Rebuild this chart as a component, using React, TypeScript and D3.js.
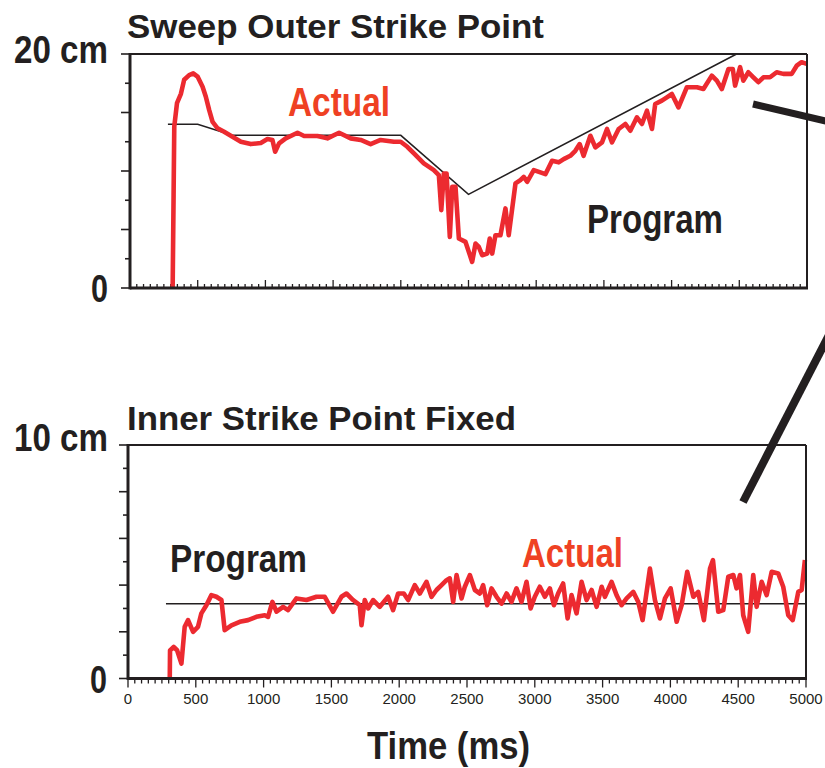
import React from "react";
import * as d3 from "d3";

// Outer strike point: measured position [time ms, cm]
const outerActual: [number, number][] = [
  [315, 0], [322, 8], [327, 13.8], [347, 15.8], [376, 16.6], [400, 17.8], [437, 18.2], [467, 18.35],
  [499, 18.07], [536, 17.2], [560, 16.35], [585, 15.2], [610, 14.2], [647, 13.65], [695, 13.35],
  [757, 12.93], [819, 12.5], [892, 12.3], [966, 12.4], [1015, 12.73], [1052, 12.65], [1072, 11.65],
  [1101, 12.36], [1150, 12.79], [1237, 13.27], [1286, 12.99], [1384, 12.99], [1458, 12.79],
  [1544, 13.27], [1630, 12.79], [1704, 12.65], [1777, 12.3], [1851, 12.65], [1949, 12.5],
  [1999, 12.5], [2048, 12.07], [2097, 11.5], [2170, 10.65], [2244, 10.08], [2281, 9.65],
  [2299, 6.65], [2318, 9.79], [2338, 9.79], [2362, 4.37], [2380, 8.65], [2404, 8.65], [2429, 4.23],
  [2478, 3.94], [2527, 2.23], [2552, 3.8], [2576, 3.51], [2601, 2.8], [2638, 2.94], [2657, 4.23],
  [2675, 2.94], [2699, 4.51], [2736, 4.51], [2773, 6.8], [2797, 4.51], [2847, 8.94], [2883, 9.22],
  [2908, 9.5], [2933, 9.08], [2982, 10.08], [3031, 9.88], [3068, 9.73], [3117, 10.87], [3166, 10.74],
  [3203, 11.02], [3252, 11.3], [3289, 11.73], [3321, 12.3], [3350, 11.3], [3400, 13.01],
  [3437, 12.02], [3486, 12.45], [3523, 13.59], [3560, 12.45], [3609, 13.59], [3658, 14.02],
  [3695, 13.44], [3744, 14.59], [3781, 14.02], [3818, 15.15], [3855, 13.59], [3879, 15.73],
  [3928, 16.01], [3965, 16.3], [4002, 16.58], [4051, 15.44], [4113, 17.16], [4187, 17.16],
  [4235, 17.01], [4297, 18.15], [4334, 17.72], [4371, 17.01], [4420, 18.72], [4452, 18.72],
  [4469, 17.3], [4506, 18.87], [4530, 17.72], [4567, 18.44], [4604, 18.01], [4641, 17.59],
  [4678, 18.01], [4727, 18.01], [4776, 18.44], [4825, 18.3], [4887, 18.3], [4924, 19.0],
  [4960, 19.3], [4998, 19.15],
];

// Outer strike point: programmed sweep [time ms, cm]
const outerProgram: [number, number][] = [
  [280, 14], [500, 14], [755, 13.05], [2000, 13.05], [2500, 8], [4480, 20],
];

// Inner strike point: measured position [time ms, cm]
const innerActual: [number, number][] = [
  [308, 0], [310, 1.2], [337, 1.35], [362, 1.21], [394, 0.64], [418, 2.21], [443, 2.5], [480, 2.0],
  [516, 2.21], [541, 2.79], [578, 3.14], [615, 3.57], [652, 3.5], [689, 3.36], [713, 2.07],
  [763, 2.28], [824, 2.43], [885, 2.5], [947, 2.64], [1009, 2.71], [1033, 2.64], [1065, 3.28],
  [1095, 2.86], [1144, 3.07], [1180, 2.93], [1242, 3.43], [1316, 3.36], [1390, 3.5], [1451, 3.5],
  [1512, 2.86], [1574, 3.5], [1611, 3.64], [1660, 3.36], [1709, 3.14], [1722, 2.28], [1746, 3.36],
  [1771, 3.0], [1808, 3.36], [1857, 3.07], [1918, 3.5], [1955, 2.93], [1992, 3.64], [2034, 3.64],
  [2066, 3.36], [2115, 4.0], [2152, 3.64], [2201, 4.14], [2238, 3.5], [2275, 3.79], [2312, 4.0],
  [2349, 4.21], [2373, 4.29], [2398, 3.28], [2423, 4.43], [2460, 3.43], [2484, 3.93], [2521, 4.43],
  [2558, 3.79], [2595, 3.64], [2619, 4.0], [2649, 3.14], [2681, 3.86], [2718, 3.5], [2755, 3.21],
  [2792, 3.64], [2828, 3.28], [2865, 3.86], [2902, 3.28], [2939, 4.14], [2969, 3.0], [3000, 3.5],
  [3037, 3.93], [3074, 3.5], [3111, 3.86], [3141, 3.14], [3172, 3.64], [3209, 4.07], [3242, 2.57],
  [3271, 3.57], [3308, 2.79], [3345, 4.14], [3382, 3.36], [3419, 3.79], [3456, 3.07], [3493, 3.93],
  [3517, 3.5], [3566, 4.14], [3603, 3.57], [3640, 3.14], [3677, 3.43], [3726, 3.71], [3763, 3.28],
  [3795, 2.5], [3849, 4.71], [3886, 3.36], [3923, 2.57], [3960, 3.43], [4002, 3.86], [4046, 2.43],
  [4083, 3.14], [4124, 4.57], [4169, 3.5], [4205, 3.71], [4247, 2.5], [4292, 4.71], [4314, 5.07],
  [4353, 2.86], [4390, 2.93], [4427, 4.36], [4464, 4.43], [4488, 3.86], [4513, 4.43], [4537, 2.71],
  [4574, 2.0], [4611, 4.43], [4636, 3.07], [4673, 4.14], [4710, 3.57], [4747, 4.57], [4795, 4.5],
  [4832, 3.93], [4869, 2.71], [4902, 2.5], [4943, 3.71], [4968, 3.79], [4992, 5.07],
];

// Inner strike point: programmed (fixed) position [time ms, cm]
const innerProgram: [number, number][] = [
  [280, 3.2], [5000, 3.2],
];

const timeTicks = [0, 500, 1000, 1500, 2000, 2500, 3000, 3500, 4000, 4500, 5000];
const outerYTicks = [0, 2.5, 5, 7.5, 10, 12.5, 15, 17.5, 20];
const innerYTicks = [0, 1, 2, 3, 4, 5, 6, 7, 8, 9, 10];

const INK = "#231f20";
const RED = "#ec2a30";
const LABEL_RED = "#ef4123";
const FONT = "'Liberation Sans Narrow', 'Liberation Sans', Arial, sans-serif";

type TextProps = {
  x: number;
  y: number;
  w: number;
  size: number;
  fill?: string;
  children: string;
};

function Label({ x, y, w, size, fill = INK, children }: TextProps) {
  return (
    <text
      x={x}
      y={y}
      fontFamily={FONT}
      fontWeight="bold"
      fontSize={size}
      fill={fill}
      textLength={w}
      lengthAdjust="spacingAndGlyphs"
    >
      {children}
    </text>
  );
}

export default function App() {
  const W = 825;
  const H = 768;

  const xOuter = d3.scaleLinear().domain([0, 5000]).range([130, 807]);
  const yOuter = d3.scaleLinear().domain([0, 20]).range([288, 54]);
  const xInner = d3.scaleLinear().domain([0, 5000]).range([128, 806]);
  const yInner = d3.scaleLinear().domain([0, 10]).range([678.5, 445]);

  const outerLine = d3
    .line<[number, number]>()
    .x((d) => xOuter(d[0]))
    .y((d) => yOuter(d[1]));
  const innerLine = d3
    .line<[number, number]>()
    .x((d) => xInner(d[0]))
    .y((d) => yInner(d[1]));

  const minorOuter = xOuter.ticks(100);
  const minorInner = xInner.ticks(100);

  const [ox0, ox1] = xOuter.range();
  const [oy0, oy1] = yOuter.range();
  const [ix0, ix1] = xInner.range();
  const [iy0, iy1] = yInner.range();

  return (
    <div style={{ position: "absolute", left: 0, top: 0, width: W, height: H, background: "#fff" }}>
      <svg width={W} height={H} viewBox={`0 0 ${W} ${H}`}>
        <rect x={0} y={0} width={W} height={H} fill="#fff" />

        {/* ---------- Outer strike point panel ---------- */}
        <Label x={127} y={38} w={417} size={34}>Sweep Outer Strike Point</Label>
        <Label x={14} y={63} w={94} size={38}>20 cm</Label>
        <Label x={91} y={302} w={17} size={38}>0</Label>

        {/* x ticks, pointing into the plot */}
        {minorOuter.map((t) => (
          <line
            key={`om${t}`}
            x1={xOuter(t)}
            x2={xOuter(t)}
            y1={oy0}
            y2={oy0 - (t % 500 === 0 ? 8 : 4)}
            stroke={INK}
            strokeWidth={1.3}
          />
        ))}
        {/* y ticks, pointing outward */}
        {outerYTicks.map((v) => (
          <line
            key={`oy${v}`}
            x1={ox0}
            x2={ox0 - (v % 5 === 0 ? 9 : 5)}
            y1={yOuter(v)}
            y2={yOuter(v)}
            stroke={INK}
            strokeWidth={1.6}
          />
        ))}

        <path d={outerLine(outerProgram) ?? ""} fill="none" stroke={INK} strokeWidth={1.5} />
        <path
          d={outerLine(outerActual) ?? ""}
          fill="none"
          stroke={RED}
          strokeWidth={4.6}
          strokeLinejoin="round"
          strokeLinecap="butt"
        />

        {/* frame */}
        <line x1={ox0} x2={ox1} y1={oy1} y2={oy1} stroke={INK} strokeWidth={2} />
        <line x1={ox1} x2={ox1} y1={oy1} y2={oy0} stroke={INK} strokeWidth={2} />
        <line x1={ox0} x2={ox1 + 1} y1={oy0} y2={oy0} stroke={INK} strokeWidth={2.8} />
        <line x1={ox0} x2={ox0} y1={oy1 - 1} y2={oy0 + 1.4} stroke={INK} strokeWidth={3} />

        <Label x={288} y={116} w={102} size={40} fill={LABEL_RED}>Actual</Label>
        <Label x={587} y={233} w={136} size={41}>Program</Label>

        {/* ---------- Inner strike point panel ---------- */}
        <Label x={127} y={430} w={389} size={34}>Inner Strike Point Fixed</Label>
        <Label x={14} y={451} w={94} size={38}>10 cm</Label>
        <Label x={90} y={693} w={17} size={38}>0</Label>

        {/* x ticks, pointing outward */}
        {minorInner.map((t) => (
          <line
            key={`im${t}`}
            x1={xInner(t)}
            x2={xInner(t)}
            y1={iy0}
            y2={iy0 + (t % 500 === 0 ? 9 : 5)}
            stroke={INK}
            strokeWidth={1.3}
          />
        ))}
        {innerYTicks.map((v) => (
          <line
            key={`iy${v}`}
            x1={ix0}
            x2={ix0 - (v % 2 === 0 ? 9 : 5)}
            y1={yInner(v)}
            y2={yInner(v)}
            stroke={INK}
            strokeWidth={1.6}
          />
        ))}
        {timeTicks.map((t) => (
          <text
            key={`tl${t}`}
            x={xInner(t)}
            y={704}
            textAnchor="middle"
            fontFamily="'Liberation Sans', Arial, sans-serif"
            fontSize={15}
            fill={INK}
          >
            {t}
          </text>
        ))}

        <path d={innerLine(innerProgram) ?? ""} fill="none" stroke={INK} strokeWidth={1.5} />
        <path
          d={innerLine(innerActual) ?? ""}
          fill="none"
          stroke={RED}
          strokeWidth={4.6}
          strokeLinejoin="round"
        />

        <line x1={ix0} x2={ix1} y1={iy1} y2={iy1} stroke={INK} strokeWidth={2} />
        <line x1={ix1} x2={ix1} y1={iy1} y2={iy0} stroke={INK} strokeWidth={2} />
        <line x1={ix0} x2={ix1 + 1} y1={iy0} y2={iy0} stroke={INK} strokeWidth={2.8} />
        <line x1={ix0} x2={ix0} y1={iy1 - 1} y2={iy0 + 1.4} stroke={INK} strokeWidth={3} />

        <Label x={170} y={572} w={137} size={39}>Program</Label>
        <Label x={522} y={567} w={101} size={40} fill={LABEL_RED}>Actual</Label>

        <Label x={367} y={759} w={163} size={38}>Time (ms)</Label>

        {/* pointer strokes running off the right edge */}
        <line x1={753} y1={104} x2={830} y2={122} stroke={INK} strokeWidth={7} />
        <line x1={830} y1={333} x2={743} y2={502} stroke={INK} strokeWidth={8} />
      </svg>
    </div>
  );
}
